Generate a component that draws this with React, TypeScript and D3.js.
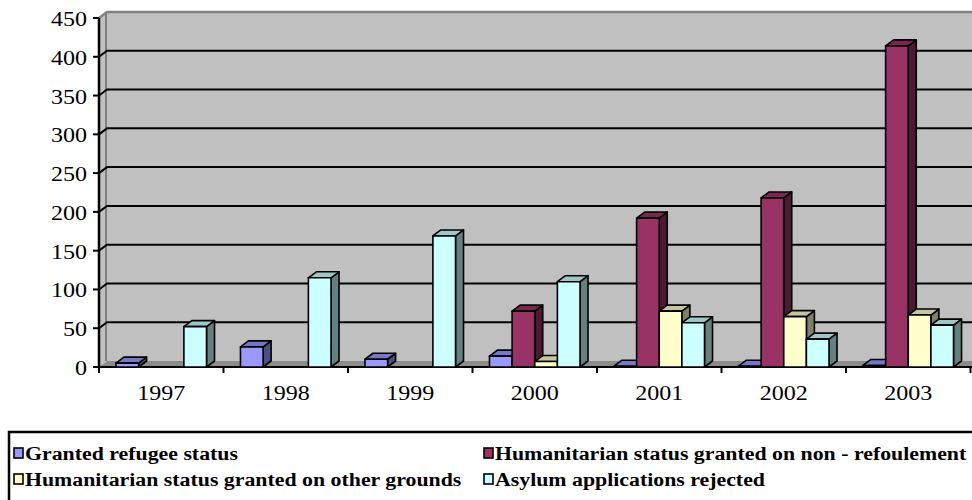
import React from 'react';
import * as d3 from 'd3';

// Decisions on asylum applications, by year
const years = ['1997', '1998', '1999', '2000', '2001', '2002', '2003'];
const seriesNames = [
  'Granted refugee status',
  'Humanitarian status granted on non - refoulement',
  'Humanitarian status granted on other grounds',
  'Asylum applications rejected',
];
const grantedRefugee = [5, 26, 10, 14, 1, 1, 2];
const nonRefoulement = [0, 0, 0, 72, 192, 218, 414];
const otherGrounds = [0, 0, 0, 7, 72, 65, 67];
const rejected = [52, 115, 169, 110, 57, 36, 54];
const yTicks = [0, 50, 100, 150, 200, 250, 300, 350, 400, 450];

const seriesValues = [grantedRefugee, nonRefoulement, otherGrounds, rejected];
const fills = ['#9999FF', '#993366', '#FFFFCC', '#CCFFFF'];

const W = 972;
const H = 500;
const axisX = 99;
const baseY = 367;
const topY = 18;
const endX = 970.5;
const DX = 8;
const DY = -6;
const SX = 1.12; // horizontal text stretch
const FONT = "'Liberation Serif', 'Times New Roman', Times, serif";

const shade = (c: string, k: number) => {
  const col = d3.rgb(c);
  return d3.rgb(col.r * k, col.g * k, col.b * k).formatHex();
};

function SText({ x, y, anchor = 'start', size, weight = 'normal', children }: any) {
  return (
    <text
      transform={`translate(${x},${y}) scale(${SX},1)`}
      textAnchor={anchor}
      style={{ fontFamily: FONT, fontSize: `${size}px`, fontWeight: weight }}
      fill="#000"
    >
      {children}
    </text>
  );
}

export default function App() {
  const y = d3.scaleLinear().domain([0, 450]).range([baseY, topY]);
  const x0 = d3.scaleBand<string>().domain(years).range([axisX, endX]).padding(0);
  const x1 = d3
    .scaleBand<number>()
    .domain(d3.range(seriesNames.length))
    .range([0, x0.bandwidth()])
    .paddingInner(0)
    .paddingOuter(0.75);
  const bw = x1.bandwidth();

  const bars: JSX.Element[] = [];
  years.forEach((yr, i) => {
    seriesValues.forEach((vals, s) => {
      const v = vals[i];
      if (!v) return;
      const xl = (x0(yr) as number) + (x1(s) as number);
      const xr = xl + bw;
      const yt = y(v);
      const fill = fills[s];
      const side = `${xr},${baseY} ${xr},${yt} ${xr + DX},${yt + DY} ${xr + DX},${baseY + DY}`;
      const top = `${xl},${yt} ${xl + DX},${yt + DY} ${xr + DX},${yt + DY} ${xr},${yt}`;
      bars.push(
        <g key={`${yr}-${s}`} stroke="#000" strokeWidth={1.6} strokeLinejoin="round">
          <polygon points={side} fill={shade(fill, 0.5)} />
          <polygon points={top} fill={shade(fill, 0.78)} />
          <rect x={xl} y={yt} width={bw} height={baseY - yt} fill={fill} />
        </g>
      );
    });
  });

  const gridTicks = yTicks.filter((t) => t > 0 && t < 450);

  return (
    <svg width={W} height={H} style={{ position: 'absolute', left: 0, top: 0, background: '#fff' }}>
      {/* walls and floor */}
      <rect x={axisX + DX} y={topY + DY} width={W} height={baseY - topY} fill="#C0C0C0" />
      <polygon
        points={`${axisX},${topY} ${axisX + DX},${topY + DY} ${axisX + DX},${baseY + DY} ${axisX},${baseY}`}
        fill="#C0C0C0"
      />
      <polygon
        points={`${axisX},${baseY} ${axisX + DX},${baseY + DY} ${W + 20},${baseY + DY} ${W + 20},${baseY}`}
        fill="#8C8C8C"
      />
      <line x1={axisX + DX - 1} x2={axisX + DX - 1} y1={topY + DY} y2={baseY + DY} stroke="#808080" strokeWidth={2} />
      <polyline
        points={`${axisX},${topY} ${axisX + DX},${topY + DY} ${W + 20},${topY + DY}`}
        fill="none"
        stroke="#808080"
        strokeWidth={2.5}
      />

      {/* gridlines */}
      {gridTicks.map((t) => (
        <polyline
          key={t}
          points={`${axisX},${y(t)} ${axisX + DX},${y(t) + DY} ${W + 20},${y(t) + DY}`}
          fill="none"
          stroke="#000"
          strokeWidth={2}
        />
      ))}

      {/* floor front edge and category axis */}
      <line x1={axisX} x2={W + 20} y1={baseY} y2={baseY} stroke="#000" strokeWidth={2.2} />
      {[...years.map((yr) => x0(yr) as number), endX].map((xv, i) => (
        <line key={i} x1={xv} x2={xv} y1={baseY} y2={baseY + 6} stroke="#000" strokeWidth={2} />
      ))}

      {/* value axis */}
      <line x1={axisX} x2={axisX} y1={topY} y2={baseY} stroke="#000" strokeWidth={2.5} />
      {yTicks.map((t) => (
        <g key={t}>
          <line x1={axisX - 6} x2={axisX} y1={y(t)} y2={y(t)} stroke="#000" strokeWidth={2} />
          <SText x={87} y={y(t) + 8} anchor="end" size={21.5}>
            {t}
          </SText>
        </g>
      ))}

      {bars}

      {years.map((yr) => (
        <SText key={yr} x={(x0(yr) as number) + x0.bandwidth() / 2} y={400} anchor="middle" size={21.5}>
          {yr}
        </SText>
      ))}

      {/* legend */}
      <rect x={9} y={432} width={W} height={100} fill="#fff" stroke="#000" strokeWidth={2.5} />
      {seriesNames.map((name, s) => {
        const col = s % 2;
        const row = Math.floor(s / 2);
        const sx = col === 0 ? 14 : 484;
        const ty = 460 + row * 26;
        return (
          <g key={name}>
            <rect x={sx} y={ty - 12} width={9} height={10} fill={fills[s]} stroke="#000" strokeWidth={1.6} />
            <SText x={sx + 11} y={ty} size={19.5} weight="bold">
              {name}
            </SText>
          </g>
        );
      })}
    </svg>
  );
}
